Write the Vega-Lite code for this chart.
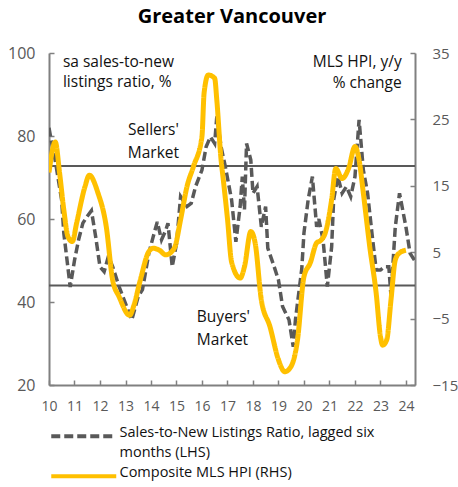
{
  "$schema": "https://vega.github.io/schema/vega-lite/v6.json",
  "width": 366,
  "height": 332,
  "autosize": {"type": "none"},
  "padding": {"left": 49, "top": 53, "right": 43, "bottom": 102},
  "background": "white",
  "title": {"text": "Greater Vancouver", "fontSize": 20, "font": "Open Sans", "fontWeight": "bold", "color": "#000000", "anchor": "middle", "offset": 18},
  "config": {
    "view": {"stroke": null},
    "font": "Open Sans",
    "legend": {
      "title": null,
      "orient": "bottom",
      "direction": "vertical",
      "labelFont": "Open Sans",
      "labelFontSize": 14.5,
      "labelColor": "#111111",
      "labelLimit": 400,
      "labelBaseline": "top",
      "symbolType": "M-1,0H12",
      "symbolSize": 100,
      "symbolStrokeWidth": 4,
      "labelOffset": 56,
      "rowPadding": 5,
      "offset": 16
    }
  },
  "datasets": {
    "ratio": [
      {"date": "2010-01-01", "value": 82, "series": "Sales-to-New Listings Ratio, lagged six months (LHS)"},
      {"date": "2010-02-01", "value": 79, "series": "Sales-to-New Listings Ratio, lagged six months (LHS)"},
      {"date": "2010-04-01", "value": 74, "series": "Sales-to-New Listings Ratio, lagged six months (LHS)"},
      {"date": "2010-07-01", "value": 64.6, "series": "Sales-to-New Listings Ratio, lagged six months (LHS)"},
      {"date": "2010-08-01", "value": 56.6, "series": "Sales-to-New Listings Ratio, lagged six months (LHS)"},
      {"date": "2010-10-01", "value": 48, "series": "Sales-to-New Listings Ratio, lagged six months (LHS)"},
      {"date": "2010-11-01", "value": 43.6, "series": "Sales-to-New Listings Ratio, lagged six months (LHS)"},
      {"date": "2011-01-01", "value": 50, "series": "Sales-to-New Listings Ratio, lagged six months (LHS)"},
      {"date": "2011-03-01", "value": 55, "series": "Sales-to-New Listings Ratio, lagged six months (LHS)"},
      {"date": "2011-05-01", "value": 59, "series": "Sales-to-New Listings Ratio, lagged six months (LHS)"},
      {"date": "2011-07-01", "value": 60.6, "series": "Sales-to-New Listings Ratio, lagged six months (LHS)"},
      {"date": "2011-09-01", "value": 62, "series": "Sales-to-New Listings Ratio, lagged six months (LHS)"},
      {"date": "2011-11-01", "value": 55.7, "series": "Sales-to-New Listings Ratio, lagged six months (LHS)"},
      {"date": "2012-01-01", "value": 48.5, "series": "Sales-to-New Listings Ratio, lagged six months (LHS)"},
      {"date": "2012-03-01", "value": 47.3, "series": "Sales-to-New Listings Ratio, lagged six months (LHS)"},
      {"date": "2012-05-01", "value": 51, "series": "Sales-to-New Listings Ratio, lagged six months (LHS)"},
      {"date": "2012-07-01", "value": 48.5, "series": "Sales-to-New Listings Ratio, lagged six months (LHS)"},
      {"date": "2012-10-01", "value": 43.7, "series": "Sales-to-New Listings Ratio, lagged six months (LHS)"},
      {"date": "2012-12-01", "value": 41, "series": "Sales-to-New Listings Ratio, lagged six months (LHS)"},
      {"date": "2013-04-01", "value": 35.7, "series": "Sales-to-New Listings Ratio, lagged six months (LHS)"},
      {"date": "2013-07-01", "value": 41.3, "series": "Sales-to-New Listings Ratio, lagged six months (LHS)"},
      {"date": "2013-09-01", "value": 43, "series": "Sales-to-New Listings Ratio, lagged six months (LHS)"},
      {"date": "2013-12-01", "value": 51.7, "series": "Sales-to-New Listings Ratio, lagged six months (LHS)"},
      {"date": "2014-02-01", "value": 55.7, "series": "Sales-to-New Listings Ratio, lagged six months (LHS)"},
      {"date": "2014-04-01", "value": 59.3, "series": "Sales-to-New Listings Ratio, lagged six months (LHS)"},
      {"date": "2014-06-01", "value": 55, "series": "Sales-to-New Listings Ratio, lagged six months (LHS)"},
      {"date": "2014-08-01", "value": 57.3, "series": "Sales-to-New Listings Ratio, lagged six months (LHS)"},
      {"date": "2014-09-01", "value": 59, "series": "Sales-to-New Listings Ratio, lagged six months (LHS)"},
      {"date": "2014-11-01", "value": 48.5, "series": "Sales-to-New Listings Ratio, lagged six months (LHS)"},
      {"date": "2015-01-01", "value": 54, "series": "Sales-to-New Listings Ratio, lagged six months (LHS)"},
      {"date": "2015-03-01", "value": 65.4, "series": "Sales-to-New Listings Ratio, lagged six months (LHS)"},
      {"date": "2015-06-01", "value": 63, "series": "Sales-to-New Listings Ratio, lagged six months (LHS)"},
      {"date": "2015-08-01", "value": 63.8, "series": "Sales-to-New Listings Ratio, lagged six months (LHS)"},
      {"date": "2015-10-01", "value": 67.8, "series": "Sales-to-New Listings Ratio, lagged six months (LHS)"},
      {"date": "2016-01-01", "value": 71.8, "series": "Sales-to-New Listings Ratio, lagged six months (LHS)"},
      {"date": "2016-03-01", "value": 77.4, "series": "Sales-to-New Listings Ratio, lagged six months (LHS)"},
      {"date": "2016-05-01", "value": 79.8, "series": "Sales-to-New Listings Ratio, lagged six months (LHS)"},
      {"date": "2016-07-01", "value": 78.2, "series": "Sales-to-New Listings Ratio, lagged six months (LHS)"},
      {"date": "2016-08-01", "value": 84.7, "series": "Sales-to-New Listings Ratio, lagged six months (LHS)"},
      {"date": "2016-10-01", "value": 77.4, "series": "Sales-to-New Listings Ratio, lagged six months (LHS)"},
      {"date": "2016-12-01", "value": 72.6, "series": "Sales-to-New Listings Ratio, lagged six months (LHS)"},
      {"date": "2017-03-01", "value": 64.6, "series": "Sales-to-New Listings Ratio, lagged six months (LHS)"},
      {"date": "2017-05-01", "value": 54.5, "series": "Sales-to-New Listings Ratio, lagged six months (LHS)"},
      {"date": "2017-07-01", "value": 63, "series": "Sales-to-New Listings Ratio, lagged six months (LHS)"},
      {"date": "2017-08-01", "value": 70.2, "series": "Sales-to-New Listings Ratio, lagged six months (LHS)"},
      {"date": "2017-09-01", "value": 62.2, "series": "Sales-to-New Listings Ratio, lagged six months (LHS)"},
      {"date": "2017-10-01", "value": 78.2, "series": "Sales-to-New Listings Ratio, lagged six months (LHS)"},
      {"date": "2017-12-01", "value": 74.2, "series": "Sales-to-New Listings Ratio, lagged six months (LHS)"},
      {"date": "2018-01-01", "value": 66.2, "series": "Sales-to-New Listings Ratio, lagged six months (LHS)"},
      {"date": "2018-03-01", "value": 67.8, "series": "Sales-to-New Listings Ratio, lagged six months (LHS)"},
      {"date": "2018-05-01", "value": 58.1, "series": "Sales-to-New Listings Ratio, lagged six months (LHS)"},
      {"date": "2018-07-01", "value": 63, "series": "Sales-to-New Listings Ratio, lagged six months (LHS)"},
      {"date": "2018-08-01", "value": 53, "series": "Sales-to-New Listings Ratio, lagged six months (LHS)"},
      {"date": "2018-11-01", "value": 48.5, "series": "Sales-to-New Listings Ratio, lagged six months (LHS)"},
      {"date": "2019-01-01", "value": 45.3, "series": "Sales-to-New Listings Ratio, lagged six months (LHS)"},
      {"date": "2019-03-01", "value": 38.9, "series": "Sales-to-New Listings Ratio, lagged six months (LHS)"},
      {"date": "2019-06-01", "value": 35.7, "series": "Sales-to-New Listings Ratio, lagged six months (LHS)"},
      {"date": "2019-08-01", "value": 29.2, "series": "Sales-to-New Listings Ratio, lagged six months (LHS)"},
      {"date": "2019-09-01", "value": 35.7, "series": "Sales-to-New Listings Ratio, lagged six months (LHS)"},
      {"date": "2019-12-01", "value": 48, "series": "Sales-to-New Listings Ratio, lagged six months (LHS)"},
      {"date": "2020-01-01", "value": 56.6, "series": "Sales-to-New Listings Ratio, lagged six months (LHS)"},
      {"date": "2020-03-01", "value": 64.6, "series": "Sales-to-New Listings Ratio, lagged six months (LHS)"},
      {"date": "2020-05-01", "value": 70.2, "series": "Sales-to-New Listings Ratio, lagged six months (LHS)"},
      {"date": "2020-07-01", "value": 58.1, "series": "Sales-to-New Listings Ratio, lagged six months (LHS)"},
      {"date": "2020-08-01", "value": 60, "series": "Sales-to-New Listings Ratio, lagged six months (LHS)"},
      {"date": "2020-10-01", "value": 55, "series": "Sales-to-New Listings Ratio, lagged six months (LHS)"},
      {"date": "2020-12-01", "value": 43.7, "series": "Sales-to-New Listings Ratio, lagged six months (LHS)"},
      {"date": "2021-02-01", "value": 53.3, "series": "Sales-to-New Listings Ratio, lagged six months (LHS)"},
      {"date": "2021-03-01", "value": 64.6, "series": "Sales-to-New Listings Ratio, lagged six months (LHS)"},
      {"date": "2021-05-01", "value": 70.2, "series": "Sales-to-New Listings Ratio, lagged six months (LHS)"},
      {"date": "2021-07-01", "value": 66.2, "series": "Sales-to-New Listings Ratio, lagged six months (LHS)"},
      {"date": "2021-09-01", "value": 67.8, "series": "Sales-to-New Listings Ratio, lagged six months (LHS)"},
      {"date": "2021-11-01", "value": 65.4, "series": "Sales-to-New Listings Ratio, lagged six months (LHS)"},
      {"date": "2022-01-01", "value": 70.2, "series": "Sales-to-New Listings Ratio, lagged six months (LHS)"},
      {"date": "2022-03-01", "value": 83.9, "series": "Sales-to-New Listings Ratio, lagged six months (LHS)"},
      {"date": "2022-05-01", "value": 71.8, "series": "Sales-to-New Listings Ratio, lagged six months (LHS)"},
      {"date": "2022-07-01", "value": 66.2, "series": "Sales-to-New Listings Ratio, lagged six months (LHS)"},
      {"date": "2022-09-01", "value": 56.6, "series": "Sales-to-New Listings Ratio, lagged six months (LHS)"},
      {"date": "2022-11-01", "value": 47.7, "series": "Sales-to-New Listings Ratio, lagged six months (LHS)"},
      {"date": "2023-01-01", "value": 47.7, "series": "Sales-to-New Listings Ratio, lagged six months (LHS)"},
      {"date": "2023-03-01", "value": 48.5, "series": "Sales-to-New Listings Ratio, lagged six months (LHS)"},
      {"date": "2023-05-01", "value": 48.5, "series": "Sales-to-New Listings Ratio, lagged six months (LHS)"},
      {"date": "2023-06-01", "value": 41.5, "series": "Sales-to-New Listings Ratio, lagged six months (LHS)"},
      {"date": "2023-08-01", "value": 58, "series": "Sales-to-New Listings Ratio, lagged six months (LHS)"},
      {"date": "2023-10-01", "value": 66.2, "series": "Sales-to-New Listings Ratio, lagged six months (LHS)"},
      {"date": "2024-01-01", "value": 58.1, "series": "Sales-to-New Listings Ratio, lagged six months (LHS)"},
      {"date": "2024-03-01", "value": 51.7, "series": "Sales-to-New Listings Ratio, lagged six months (LHS)"},
      {"date": "2024-05-01", "value": 50.1, "series": "Sales-to-New Listings Ratio, lagged six months (LHS)"}
    ],
    "hpi": [
      {"date": "2010-01-01", "value": 17.0, "series": "Composite MLS HPI (RHS)"},
      {"date": "2010-04-01", "value": 21.6, "series": "Composite MLS HPI (RHS)"},
      {"date": "2010-06-01", "value": 17.0, "series": "Composite MLS HPI (RHS)"},
      {"date": "2010-08-01", "value": 11.4, "series": "Composite MLS HPI (RHS)"},
      {"date": "2010-10-01", "value": 7.3, "series": "Composite MLS HPI (RHS)"},
      {"date": "2010-12-01", "value": 6.6, "series": "Composite MLS HPI (RHS)"},
      {"date": "2011-02-01", "value": 9.4, "series": "Composite MLS HPI (RHS)"},
      {"date": "2011-06-01", "value": 14.9, "series": "Composite MLS HPI (RHS)"},
      {"date": "2011-08-01", "value": 16.6, "series": "Composite MLS HPI (RHS)"},
      {"date": "2011-12-01", "value": 14.0, "series": "Composite MLS HPI (RHS)"},
      {"date": "2012-04-01", "value": 8.8, "series": "Composite MLS HPI (RHS)"},
      {"date": "2012-07-01", "value": 0.8, "series": "Composite MLS HPI (RHS)"},
      {"date": "2012-10-01", "value": -1.7, "series": "Composite MLS HPI (RHS)"},
      {"date": "2013-03-01", "value": -4.5, "series": "Composite MLS HPI (RHS)"},
      {"date": "2013-05-01", "value": -3.0, "series": "Composite MLS HPI (RHS)"},
      {"date": "2013-08-01", "value": 0.8, "series": "Composite MLS HPI (RHS)"},
      {"date": "2013-12-01", "value": 5.1, "series": "Composite MLS HPI (RHS)"},
      {"date": "2014-02-01", "value": 5.6, "series": "Composite MLS HPI (RHS)"},
      {"date": "2014-05-01", "value": 5.3, "series": "Composite MLS HPI (RHS)"},
      {"date": "2014-08-01", "value": 4.6, "series": "Composite MLS HPI (RHS)"},
      {"date": "2014-12-01", "value": 5.6, "series": "Composite MLS HPI (RHS)"},
      {"date": "2015-03-01", "value": 9.9, "series": "Composite MLS HPI (RHS)"},
      {"date": "2015-06-01", "value": 14.9, "series": "Composite MLS HPI (RHS)"},
      {"date": "2015-09-01", "value": 17.9, "series": "Composite MLS HPI (RHS)"},
      {"date": "2016-01-01", "value": 22.4, "series": "Composite MLS HPI (RHS)"},
      {"date": "2016-02-01", "value": 29, "series": "Composite MLS HPI (RHS)"},
      {"date": "2016-04-01", "value": 31.7, "series": "Composite MLS HPI (RHS)"},
      {"date": "2016-07-01", "value": 31.2, "series": "Composite MLS HPI (RHS)"},
      {"date": "2016-08-01", "value": 27.9, "series": "Composite MLS HPI (RHS)"},
      {"date": "2016-10-01", "value": 18.9, "series": "Composite MLS HPI (RHS)"},
      {"date": "2016-11-01", "value": 16, "series": "Composite MLS HPI (RHS)"},
      {"date": "2017-01-01", "value": 10, "series": "Composite MLS HPI (RHS)"},
      {"date": "2017-03-01", "value": 3.5, "series": "Composite MLS HPI (RHS)"},
      {"date": "2017-07-01", "value": 1.1, "series": "Composite MLS HPI (RHS)"},
      {"date": "2017-09-01", "value": 2.8, "series": "Composite MLS HPI (RHS)"},
      {"date": "2017-12-01", "value": 8.1, "series": "Composite MLS HPI (RHS)"},
      {"date": "2018-02-01", "value": 6.4, "series": "Composite MLS HPI (RHS)"},
      {"date": "2018-05-01", "value": -2.2, "series": "Composite MLS HPI (RHS)"},
      {"date": "2018-09-01", "value": -6.2, "series": "Composite MLS HPI (RHS)"},
      {"date": "2019-01-01", "value": -11.2, "series": "Composite MLS HPI (RHS)"},
      {"date": "2019-04-01", "value": -13, "series": "Composite MLS HPI (RHS)"},
      {"date": "2019-07-01", "value": -12.2, "series": "Composite MLS HPI (RHS)"},
      {"date": "2019-10-01", "value": -8.2, "series": "Composite MLS HPI (RHS)"},
      {"date": "2020-01-01", "value": 1.3, "series": "Composite MLS HPI (RHS)"},
      {"date": "2020-04-01", "value": 3.4, "series": "Composite MLS HPI (RHS)"},
      {"date": "2020-07-01", "value": 6.4, "series": "Composite MLS HPI (RHS)"},
      {"date": "2020-09-01", "value": 6.8, "series": "Composite MLS HPI (RHS)"},
      {"date": "2020-11-01", "value": 7.9, "series": "Composite MLS HPI (RHS)"},
      {"date": "2021-02-01", "value": 12.9, "series": "Composite MLS HPI (RHS)"},
      {"date": "2021-04-01", "value": 17.6, "series": "Composite MLS HPI (RHS)"},
      {"date": "2021-07-01", "value": 16.1, "series": "Composite MLS HPI (RHS)"},
      {"date": "2021-10-01", "value": 17.6, "series": "Composite MLS HPI (RHS)"},
      {"date": "2022-01-01", "value": 20.9, "series": "Composite MLS HPI (RHS)"},
      {"date": "2022-03-01", "value": 18.9, "series": "Composite MLS HPI (RHS)"},
      {"date": "2022-05-01", "value": 13.9, "series": "Composite MLS HPI (RHS)"},
      {"date": "2022-08-01", "value": 5.8, "series": "Composite MLS HPI (RHS)"},
      {"date": "2022-11-01", "value": -1.2, "series": "Composite MLS HPI (RHS)"},
      {"date": "2023-01-01", "value": -7.7, "series": "Composite MLS HPI (RHS)"},
      {"date": "2023-02-01", "value": -9, "series": "Composite MLS HPI (RHS)"},
      {"date": "2023-04-01", "value": -8.2, "series": "Composite MLS HPI (RHS)"},
      {"date": "2023-06-01", "value": -2.2, "series": "Composite MLS HPI (RHS)"},
      {"date": "2023-08-01", "value": 3.8, "series": "Composite MLS HPI (RHS)"},
      {"date": "2023-10-01", "value": 4.9, "series": "Composite MLS HPI (RHS)"},
      {"date": "2024-01-01", "value": 5.3, "series": "Composite MLS HPI (RHS)"}
    ]
  },
  "layer": [
    {
      "layer": [
        {
          "data": {"values": [{}]},
          "mark": {"type": "rule", "color": "#595959", "strokeWidth": 2},
          "encoding": {"y": {"datum": 72.8, "type": "quantitative", "scale": {"domain": [20, 100], "zero": false}}}
        },
        {
          "data": {"values": [{}]},
          "mark": {"type": "rule", "color": "#595959", "strokeWidth": 2},
          "encoding": {"y": {"datum": 44, "type": "quantitative", "scale": {"domain": [20, 100], "zero": false}}}
        },
        {
          "data": {"name": "ratio"},
          "mark": {"type": "line", "strokeWidth": 3.5, "clip": true},
          "encoding": {
            "x": {
              "field": "date", "type": "temporal", "title": null,
              "scale": {"domain": [{"year": 2010, "month": 1, "date": 1}, {"year": 2024, "month": 5, "date": 10}]},
              "axis": {
                "format": "%y", "tickCount": {"interval": "year", "step": 1}, "labelFlush": false,
                "labelFontSize": 14, "labelColor": "#595959", "labelFont": "Open Sans", "labelPadding": 19,
                "domainColor": "#808080", "domainWidth": 2, "tickColor": "#808080", "tickWidth": 1.5, "tickSize": -5,
                "grid": false, "labelOverlap": false
              }
            },
            "y": {
              "field": "value", "type": "quantitative", "title": null,
              "scale": {"domain": [20, 100], "zero": false},
              "axis": {
                "values": [20, 40, 60, 80, 100], "orient": "left",
                "labelFontSize": 16, "labelColor": "#595959", "labelFont": "Open Sans", "labelPadding": 19,
                "domainColor": "#808080", "domainWidth": 2, "tickColor": "#808080", "tickWidth": 1.5, "tickSize": -5,
                "grid": false
              }
            },
            "color": {
              "field": "series", "type": "nominal", "title": null,
              "scale": {"domain": ["Sales-to-New Listings Ratio, lagged six months (LHS)", "Composite MLS HPI (RHS)"], "range": ["#595959", "#FFC000"]},
              "legend": {
                "labelExpr": "indexof(datum.label, 'lagged') >= 0 ? ['Sales-to-New Listings Ratio, lagged six', 'months (LHS)'] : datum.label",
                "encode": {"labels": {"update": {"lineHeight": {"value": 20}, "dy": {"value": -10}}}}
              }
            },
            "strokeDash": {
              "field": "series", "type": "nominal", "title": null,
              "scale": {"domain": ["Sales-to-New Listings Ratio, lagged six months (LHS)", "Composite MLS HPI (RHS)"], "range": [[9, 4], [1, 0]]},
              "legend": {
                "labelExpr": "indexof(datum.label, 'lagged') >= 0 ? ['Sales-to-New Listings Ratio, lagged six', 'months (LHS)'] : datum.label",
                "encode": {"labels": {"update": {"lineHeight": {"value": 20}, "dy": {"value": -10}}}}
              }
            }
          }
        },
        {
          "data": {"values": [{}]},
          "mark": {"type": "text", "lineBreak": "\n", "lineHeight": 20, "align": "left", "baseline": "middle", "fontSize": 15.5, "font": "Open Sans", "color": "#111111"},
          "encoding": {
            "x": {"datum": {"year": 2010, "month": 7, "date": 20}, "type": "temporal"},
            "y": {"datum": 97.8, "type": "quantitative", "scale": {"domain": [20, 100], "zero": false}},
            "text": {"value": "sa sales-to-new\nlistings ratio, %"}
          }
        },
        {
          "data": {"values": [{}]},
          "mark": {"type": "text", "lineBreak": "\n", "lineHeight": 21, "align": "right", "baseline": "middle", "fontSize": 15.5, "font": "Open Sans", "color": "#111111"},
          "encoding": {
            "x": {"datum": {"year": 2023, "month": 11, "date": 1}, "type": "temporal"},
            "y": {"datum": 97.8, "type": "quantitative", "scale": {"domain": [20, 100], "zero": false}},
            "text": {"value": "MLS HPI, y/y\n% change"}
          }
        },
        {
          "data": {"values": [{}]},
          "mark": {"type": "text", "lineBreak": "\n", "lineHeight": 23, "align": "center", "baseline": "middle", "fontSize": 15.5, "font": "Open Sans", "color": "#111111"},
          "encoding": {
            "x": {"datum": {"year": 2014, "month": 2, "date": 5}, "type": "temporal"},
            "y": {"datum": 81.4, "type": "quantitative", "scale": {"domain": [20, 100], "zero": false}},
            "text": {"value": "Sellers'\nMarket"}
          }
        },
        {
          "data": {"values": [{}]},
          "mark": {"type": "text", "lineBreak": "\n", "lineHeight": 23, "align": "left", "baseline": "middle", "fontSize": 15.5, "font": "Open Sans", "color": "#111111"},
          "encoding": {
            "x": {"datum": {"year": 2015, "month": 10, "date": 20}, "type": "temporal"},
            "y": {"datum": 36.4, "type": "quantitative", "scale": {"domain": [20, 100], "zero": false}},
            "text": {"value": "Buyers'\nMarket"}
          }
        }
      ]
    },
    {
      "data": {"name": "hpi"},
      "mark": {"type": "line", "strokeWidth": 5, "interpolate": "monotone", "clip": true},
      "encoding": {
        "x": {"field": "date", "type": "temporal"},
        "y": {
          "field": "value", "type": "quantitative", "title": null,
          "scale": {"domain": [-15, 35]},
          "axis": {
            "values": [-15, -5, 5, 15, 25, 35], "orient": "right",
            "labelFontSize": 15, "labelColor": "#595959", "labelFont": "Open Sans", "labelPadding": 22,
            "domainColor": "#808080", "domainWidth": 2, "tickColor": "#808080", "tickWidth": 1.5, "tickSize": -5,
            "grid": false
          }
        },
        "color": {"field": "series", "type": "nominal", "title": null},
        "strokeDash": {"field": "series", "type": "nominal", "title": null}
      }
    }
  ],
  "resolve": {"scale": {"y": "independent"}}
}
